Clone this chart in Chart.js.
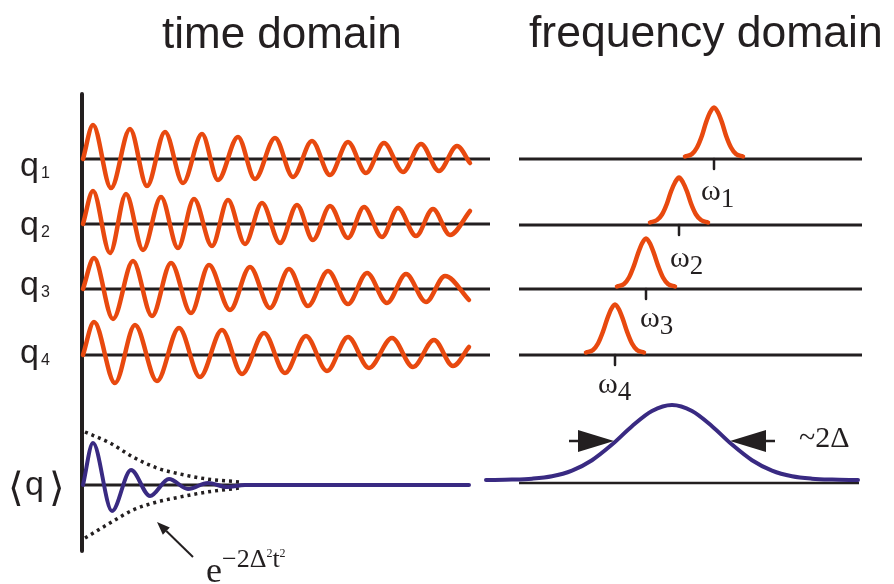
<!DOCTYPE html>
<html>
<head>
<meta charset="utf-8">
<script src="https://cdn.jsdelivr.net/npm/chart.js@4.4.1/dist/chart.umd.min.js"></script>
<style>
  html, body { margin: 0; padding: 0; background: #fff; }
  #stage { position: relative; width: 894px; height: 584px; overflow: hidden; }
  #stage canvas { position: absolute; left: 0; top: 0; }
  .lbl { position: absolute; line-height: 1; white-space: nowrap; color: #231f20; }
  .lo { position: relative; }
</style>
</head>
<body>
<div id="stage"><canvas id="chart" width="894" height="584"></canvas></div>
<script>
// time domain: time of each turning point (t) and signed amplitude (a)
const q1T = [0, 10, 28, 47, 64, 82, 100, 119, 135, 155, 172, 192, 210, 229, 247, 265, 283, 301, 320, 338, 356, 374, 387];
const q1A = [0, 34, -29, 30, -27, 27, -24, 25, -21, 22, -20, 21, -18, 18, -16, 17, -14, 16, -13, 15, -12, 13, -4];
const q2T = [0, 10, 27, 43, 60, 78, 95, 111, 129, 145, 162, 179, 197, 214, 230, 247, 265, 281, 299, 315, 333, 350, 367, 387];
const q2A = [0, 33, -29, 30, -26, 27, -24, 25, -22, 24, -20, 21, -19, 19, -16, 18, -14, 17, -13, 16, -12, 15, -11, 13];
const q3T = [0, 11, 30, 50, 69, 88, 108, 126, 147, 167, 187, 206, 225, 245, 265, 284, 304, 323, 343, 362, 386];
const q3A = [0, 31, -30, 28, -27, 26, -24, 24, -21, 22, -19, 20, -17, 18, -15, 16, -14, 15, -13, 13, -11];
const q4T = [0, 11, 32, 52, 74, 96, 117, 139, 159, 181, 202, 223, 244, 265, 286, 309, 330, 351, 370, 386];
const q4A = [0, 33, -28, 30, -26, 27, -22, 25, -19, 22, -18, 19, -16, 18, -13, 17, -12, 15, -11, 8];

// ensemble average <q> and its gaussian envelope
const avgT = [0, 10, 29, 48, 67, 86, 105, 125, 144, 162, 386];
const avgA = [0, 42, -26, 15, -11, 6, -4, 2, -2, 0, 0];
const envT = [2, 27, 50, 74, 97, 124, 157];
const envUp = [53, 42, 28, 17, 11, 6, 3];
const envLo = [-53, -38, -25, -17, -12, -7, -3];

// frequency domain: narrow lines around each omega
const omegaCenters = [714, 679, 646, 615];
const lineOffsets = [-29, -22, -17, -12, -8, -4, 0, 4, 8, 12, 17, 22, 29];
const w1H = [0, 2.5, 9, 21, 34, 44, 49, 44, 34, 21, 9, 2.5, 0];
const w2H = [0, 2.5, 8, 19, 31, 40, 45, 40, 31, 19, 8, 2.5, 0];
const w3H = [0, 2.5, 9, 21, 33, 43, 48, 43, 33, 21, 9, 2.5, 0];
const w4H = [0, 2.5, 9, 21, 33, 43, 48, 43, 33, 21, 9, 2.5, 0];

// broad (inhomogeneous) spectrum
const broadCenter = 672;
const broadHalfWidth = 58;
const broadOffsets = [-186, -160, -140, -120, -100, -80, -60, -40, -20, 0, 20, 40, 60, 80, 100, 120, 140, 160, 186];
const broadH = [0, 0.4, 1.3, 3.7, 9.4, 19.8, 35.4, 53.8, 69, 75, 69, 53.8, 35.4, 19.8, 9.4, 3.7, 1.3, 0.4, 0];

const subs = ["1", "2", "3", "4"];

const L = {
  t0: 83, axisX: 82, axisTop: 94, axisBottom: 551,
  timeRows: [159, 224, 289, 355], timeAvg: 485, timeLineEnd: 490,
  freqRows: [159, 225, 289, 355], freqAvgLine: 483, freqAvg: 480,
  freqLineStart: 519, freqLineEnd: 862, freqAvgEnd: 859,
  peakLift: 2.5, tickLen: 10, arrowY: 441,
};

const COLORS = { ink: "#231f20", orange: "#e8490f", purple: "#392a82" };

const datasets = [];

function addLine(data, color, width, extra) {
  datasets.push(Object.assign({
    data,
    showLine: true,
    borderColor: color,
    borderWidth: width,
    pointRadius: 0,
    pointHoverRadius: 0,
    fill: false,
    tension: 0,
    borderCapStyle: "round",
    borderJoinStyle: "round",
    order: 5,
  }, extra || {}));
}

function trace(ts, as, base, x0) {
  return ts.map((t, i) => ({ x: x0 + t, y: base - as[i] }));
}

const curve = { cubicInterpolationMode: "monotone", order: 1 };
const dotted = { cubicInterpolationMode: "monotone", order: 2, borderDash: [3, 4], borderCapStyle: "butt" };

// time-domain traces
[[q1T, q1A], [q2T, q2A], [q3T, q3A], [q4T, q4A]].forEach(([ts, as], i) => {
  addLine(trace(ts, as, L.timeRows[i], L.t0), COLORS.orange, 4.5, curve);
});
addLine(trace(avgT, avgA, L.timeAvg, L.t0), COLORS.purple, 4, curve);
addLine(trace(envT, envUp, L.timeAvg, L.t0), COLORS.ink, 3.5, dotted);
addLine(trace(envT, envLo, L.timeAvg, L.t0), COLORS.ink, 3.5, dotted);

// spectra
[w1H, w2H, w3H, w4H].forEach((hs, i) => {
  addLine(trace(lineOffsets, hs, L.freqRows[i] - L.peakLift, omegaCenters[i]), COLORS.orange, 4.5, curve);
  addLine([{ x: omegaCenters[i], y: L.freqRows[i] }, { x: omegaCenters[i], y: L.freqRows[i] + L.tickLen }], COLORS.ink, 2.5, { borderCapStyle: "butt" });
});
addLine(trace(broadOffsets, broadH, L.freqAvg, broadCenter), COLORS.purple, 4, curve);

// axis and baselines
addLine([{ x: L.axisX, y: L.axisTop }, { x: L.axisX, y: L.axisBottom }], COLORS.ink, 4, { borderCapStyle: "butt" });
L.timeRows.forEach((y) => addLine([{ x: L.axisX, y }, { x: L.timeLineEnd, y }], COLORS.ink, 3, { borderCapStyle: "butt" }));
addLine([{ x: L.axisX, y: L.timeAvg }, { x: L.t0 + 386, y: L.timeAvg }], COLORS.ink, 3, { borderCapStyle: "butt" });
L.freqRows.forEach((y) => addLine([{ x: L.freqLineStart, y }, { x: L.freqLineEnd, y }], COLORS.ink, 3, { borderCapStyle: "butt" }));
addLine([{ x: L.freqLineStart, y: L.freqAvgLine }, { x: L.freqAvgEnd, y: L.freqAvgLine }], COLORS.ink, 2.5, { borderCapStyle: "butt" });

const arrowPlugin = {
  id: "arrows",
  afterDatasetsDraw(chart) {
    const { ctx, scales: { x, y } } = chart;
    ctx.save();
    ctx.fillStyle = COLORS.ink;
    ctx.strokeStyle = COLORS.ink;

    // arrows marking the width of the broad line
    const py = y.getPixelForValue(L.arrowY);
    [-1, 1].forEach((side) => {
      const tip = x.getPixelForValue(broadCenter + side * broadHalfWidth);
      const base = x.getPixelForValue(broadCenter + side * (broadHalfWidth + 36));
      const tail = x.getPixelForValue(broadCenter + side * (broadHalfWidth + 45));
      ctx.lineWidth = 2.5;
      ctx.beginPath();
      ctx.moveTo(base, py);
      ctx.lineTo(tail, py);
      ctx.stroke();
      ctx.beginPath();
      ctx.moveTo(tip, py);
      ctx.lineTo(base, py - 11);
      ctx.lineTo(base, py + 11);
      ctx.closePath();
      ctx.fill();
    });

    // pointer to the envelope
    const x1 = x.getPixelForValue(193), y1 = y.getPixelForValue(557);
    const x2 = x.getPixelForValue(157), y2 = y.getPixelForValue(522);
    const ang = Math.atan2(y2 - y1, x2 - x1);
    const head = 13, half = 5;
    const bx = x2 - head * Math.cos(ang), by = y2 - head * Math.sin(ang);
    ctx.lineWidth = 2;
    ctx.beginPath();
    ctx.moveTo(x1, y1);
    ctx.lineTo(bx, by);
    ctx.stroke();
    ctx.beginPath();
    ctx.moveTo(x2, y2);
    ctx.lineTo(bx + half * Math.sin(ang), by - half * Math.cos(ang));
    ctx.lineTo(bx - half * Math.sin(ang), by + half * Math.cos(ang));
    ctx.closePath();
    ctx.fill();
    ctx.restore();
  },
};

new Chart(document.getElementById("chart").getContext("2d"), {
  type: "scatter",
  data: { datasets },
  options: {
    responsive: false,
    animation: false,
    devicePixelRatio: 1,
    layout: { padding: 0 },
    plugins: { legend: { display: false }, tooltip: { enabled: false } },
    events: [],
    scales: {
      x: { type: "linear", min: 0, max: 894, display: false },
      y: { type: "linear", min: 0, max: 584, reverse: true, display: false },
    },
  },
  plugins: [arrowPlugin],
});

// labels
const stage = document.getElementById("stage");
const FONTS = {
  sans: { family: '"Liberation Sans", Arial, sans-serif', asc: 0.8465 },
  serif: { family: '"Liberation Serif", "Times New Roman", serif', asc: 0.8375 },
  math: { family: '"DejaVu Sans", sans-serif', asc: 0.82 },
};

function addText(html, left, baseline, size, font) {
  const el = document.createElement("div");
  el.className = "lbl";
  el.style.left = left + "px";
  el.style.top = (baseline - size * FONTS[font].asc) + "px";
  el.style.fontSize = size + "px";
  el.style.fontFamily = FONTS[font].family;
  el.innerHTML = html;
  stage.appendChild(el);
}

addText("time domain", 162, 48, 44, "sans");
addText("frequency domain", 529, 48, 44.5, "sans");

const qBaselines = [176, 235, 295, 363];
subs.forEach((s, i) => {
  addText(`q<span class="lo" style="font-size:16px;top:2px;margin-left:2px">${s}</span>`, 20, qBaselines[i], 34, "sans");
});
addText("\u27E8", 8, 500, 40, "math");
addText("q", 25, 495, 34, "sans");
addText("\u27E9", 49, 500, 40, "math");

const omegaLabels = [[701, 200], [670, 267], [640, 327], [598, 393]];
subs.forEach((s, i) => {
  addText(`\u03C9<span class="lo" style="font-size:27px;top:7px">${s}</span>`, omegaLabels[i][0], omegaLabels[i][1], 30, "serif");
});
addText("~2\u0394", 799, 447, 30, "serif");
addText('e<span class="lo" style="font-size:26px;top:-15px">\u22122\u0394<span class="lo" style="font-size:12px;top:-10px">2</span>t<span class="lo" style="font-size:12px;top:-10px">2</span></span>', 206, 582, 36, "serif");
</script>
</body>
</html>
